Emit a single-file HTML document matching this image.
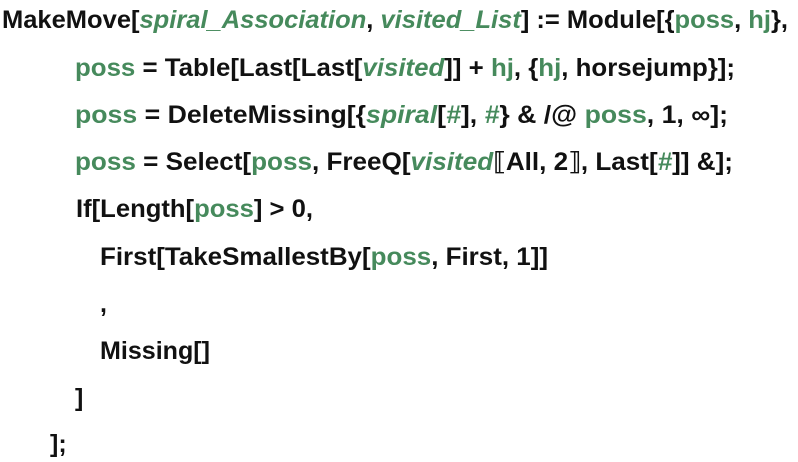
<!DOCTYPE html>
<html><head><meta charset="utf-8"><style>
html,body{margin:0;padding:0;background:#fff;}
svg{display:block;}
text{font-family:"Liberation Sans","DejaVu Sans",sans-serif;font-weight:bold;font-size:25px;fill:#111;}
.g{fill:#468a5c;}
.i{font-style:italic;fill:#468a5c;}
</style></head><body>
<svg width="798" height="462" viewBox="0 0 798 462" xmlns="http://www.w3.org/2000/svg">
<text x="2" y="28" textLength="786" lengthAdjust="spacingAndGlyphs">MakeMove[<tspan class="i">spiral_Association</tspan>, <tspan class="i">visited_List</tspan>] := Module[{<tspan class="g">poss</tspan>, <tspan class="g">hj</tspan>},</text>
<text x="75" y="76" textLength="660" lengthAdjust="spacingAndGlyphs"><tspan class="g">poss</tspan> = Table[Last[Last[<tspan class="i">visited</tspan>]] + <tspan class="g">hj</tspan>, {<tspan class="g">hj</tspan>, horsejump}];</text>
<text x="75" y="123" textLength="653" lengthAdjust="spacingAndGlyphs"><tspan class="g">poss</tspan> = DeleteMissing[{<tspan class="i">spiral</tspan>[<tspan class="i">#</tspan>], <tspan class="i">#</tspan>} &amp; /@ <tspan class="g">poss</tspan>, 1, ∞];</text>
<text x="75" y="170" textLength="658" lengthAdjust="spacingAndGlyphs"><tspan class="g">poss</tspan> = Select[<tspan class="g">poss</tspan>, FreeQ[<tspan class="i">visited</tspan>⟦All, 2⟧, Last[<tspan class="i">#</tspan>]] &amp;];</text>
<text x="76" y="217" textLength="237" lengthAdjust="spacingAndGlyphs">If[Length[<tspan class="g">poss</tspan>] &gt; 0,</text>
<text x="100" y="265" textLength="448" lengthAdjust="spacingAndGlyphs">First[TakeSmallestBy[<tspan class="g">poss</tspan>, First, 1]]</text>
<text x="100" y="312">,</text>
<text x="100" y="359" textLength="110" lengthAdjust="spacingAndGlyphs">Missing[]</text>
<text x="75" y="406">]</text>
<text x="50" y="452">];</text>
</svg>
</body></html>
